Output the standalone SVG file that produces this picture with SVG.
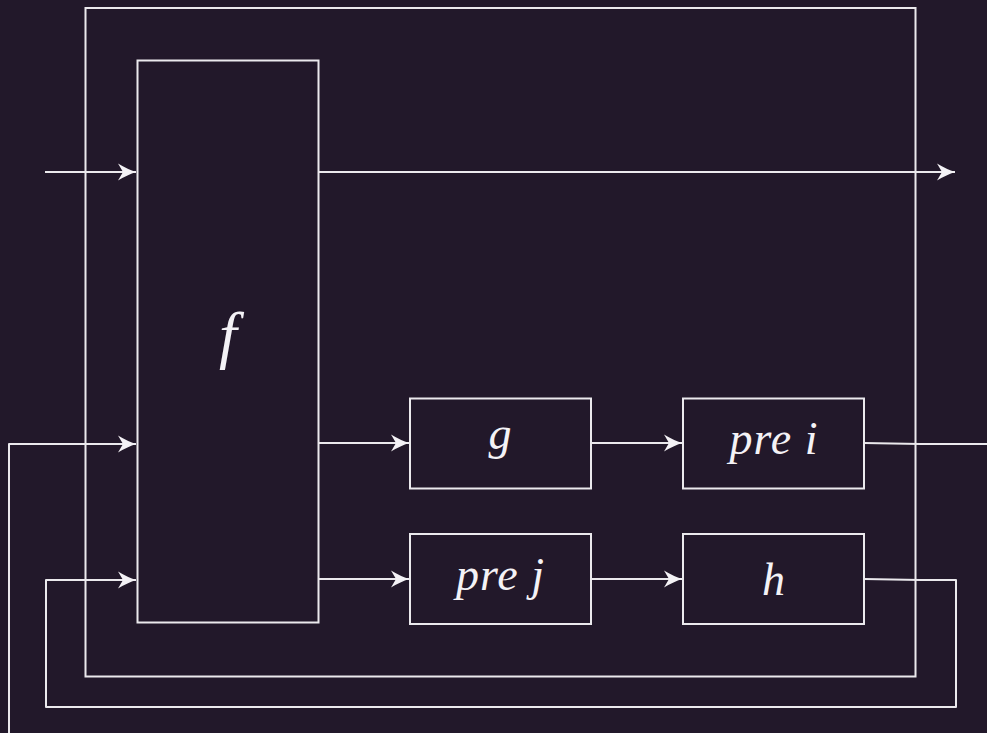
<svg xmlns="http://www.w3.org/2000/svg" width="987" height="733" viewBox="0 0 987 733">
  <style>
    .box { fill: none; stroke: #ebe9ed; stroke-width: 2; }
    .wire { fill: none; stroke: #ebe9ed; stroke-width: 2; stroke-linejoin: round; }
    .lbl { font-family: "Liberation Serif", "Times New Roman", serif; font-style: italic; fill: #f4f2f6; text-anchor: middle; }
    .small { font-size: 46px; letter-spacing: 1px; }
  </style>
  <defs>
    <marker id="arrow" viewBox="0 0 18 18" refX="18" refY="9" markerWidth="18" markerHeight="18" markerUnits="userSpaceOnUse" orient="auto">
      <path d="M0,0.5 Q10,6.5 18,9 Q10,11.5 0,17.5 L5,9 Z" fill="#f4f2f6"/>
    </marker>
  </defs>
  <rect width="987" height="733" fill="#22182a"/>

  <!-- enclosing system boundary -->
  <g id="system">
    <rect class="box" x="85.5" y="8" width="830" height="668.5"/>
  </g>

  <g id="node-f">
    <rect class="box" x="137.5" y="60.5" width="181" height="562"/>
    <text class="lbl" x="228" y="356" font-size="64">f</text>
  </g>
  <g id="node-g">
    <rect class="box" x="410" y="398.5" width="181" height="90"/>
    <text class="lbl small" x="500.5" y="449">g</text>
  </g>
  <g id="node-pre-i">
    <rect class="box" x="683" y="398.5" width="181" height="90"/>
    <text class="lbl small" x="774" y="453.5">pre i</text>
  </g>
  <g id="node-pre-j">
    <rect class="box" x="410" y="534" width="181" height="90"/>
    <text class="lbl small" x="500.5" y="589.5">pre j</text>
  </g>
  <g id="node-h">
    <rect class="box" x="683" y="534" width="181" height="90"/>
    <text class="lbl small" x="774" y="595">h</text>
  </g>

  <g id="connectors">
    <path class="wire" d="M45,172 H136" marker-end="url(#arrow)"/>
    <path class="wire" d="M318.5,172 H955" marker-end="url(#arrow)"/>
    <path class="wire" d="M318.5,443 H409" marker-end="url(#arrow)"/>
    <path class="wire" d="M591,443 H682" marker-end="url(#arrow)"/>
    <path class="wire" d="M318.5,579 H409" marker-end="url(#arrow)"/>
    <path class="wire" d="M591,579 H682" marker-end="url(#arrow)"/>
    <!-- pre i output leaves the frame and re-enters on the left -->
    <path class="wire" d="M864,443 L920,444 H990"/>
    <path class="wire" d="M9,735 V444 H136" marker-end="url(#arrow)"/>
    <!-- h feedback loop back into f -->
    <path class="wire" d="M864,579 L920,580 H956 V707 H46 V580 H136" marker-end="url(#arrow)"/>
  </g>
</svg>
